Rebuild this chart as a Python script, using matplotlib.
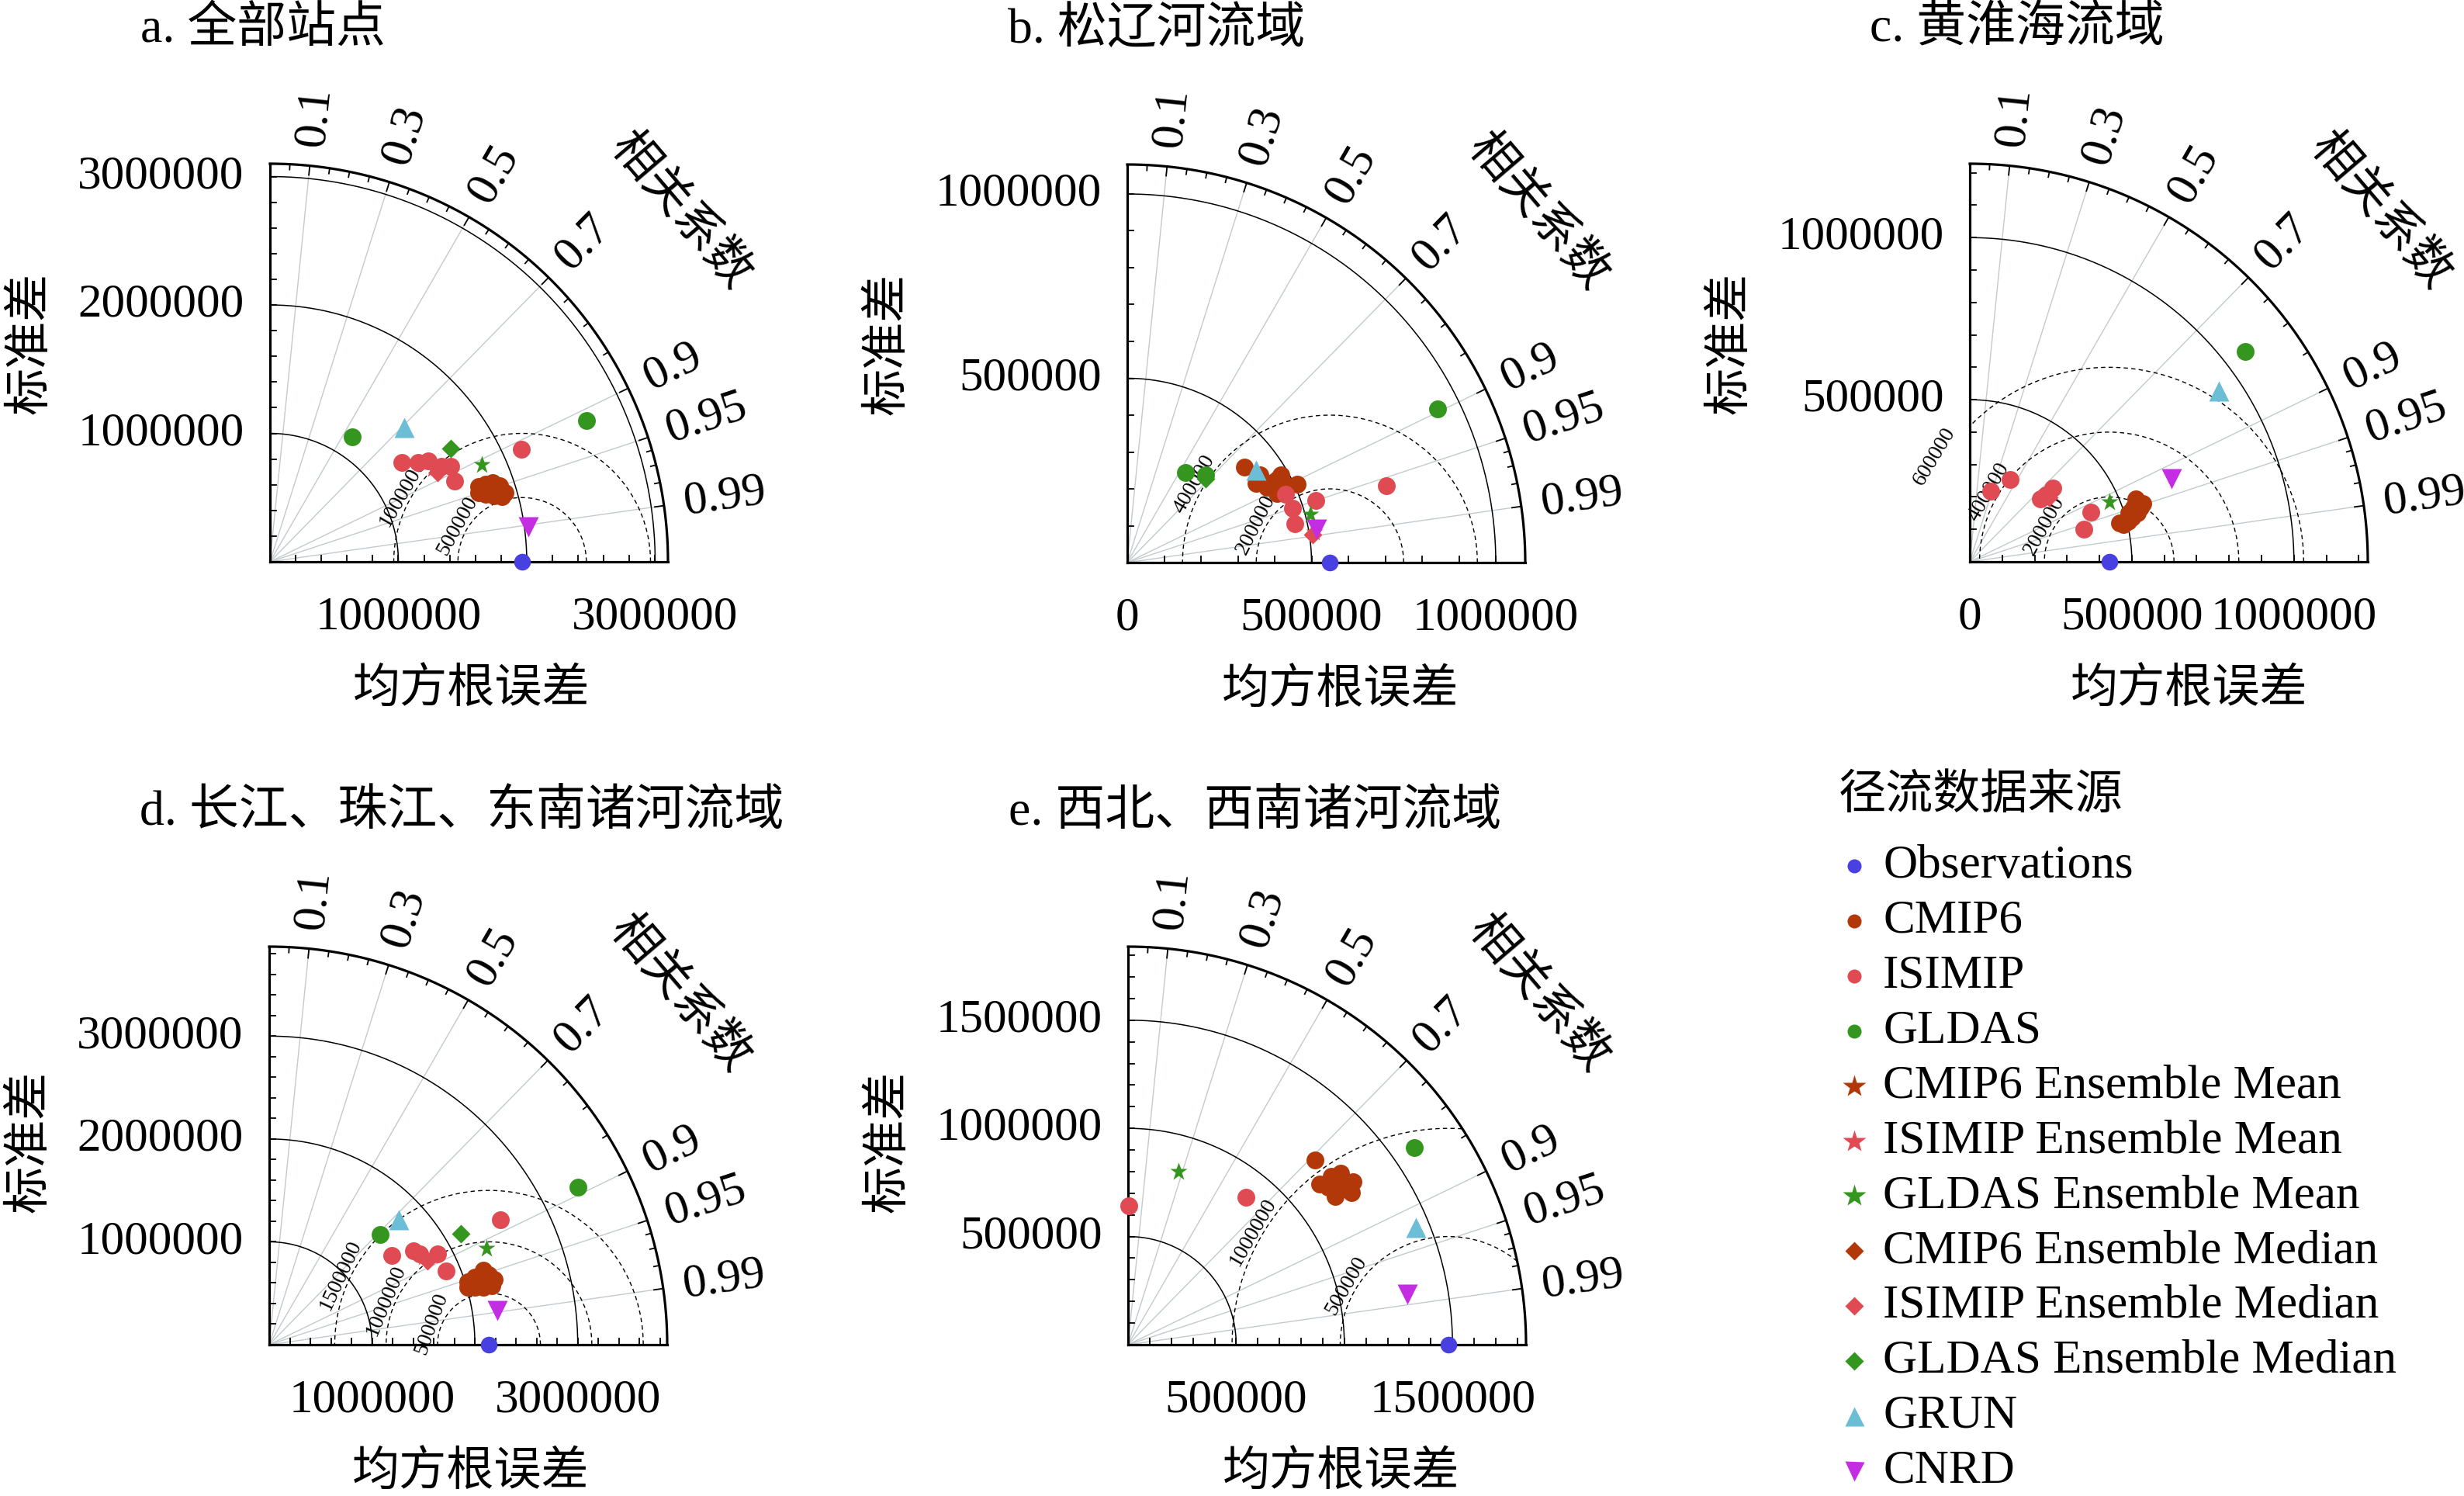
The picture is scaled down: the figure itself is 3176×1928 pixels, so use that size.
import numpy as np
import matplotlib
matplotlib.use("Agg")
import matplotlib.pyplot as plt

plt.rcParams['font.family'] = ['Liberation Serif', 'Noto Sans CJK SC']
plt.rcParams['axes.unicode_minus'] = False

UNIT = 1e6  # values below are in millions

# ---------------- data (std in 1e6 units, correlation) ----------------
# order of mean/median lists: CMIP6, ISIMIP, GLDAS
a_obs_std = 1.964
a_cmip6_std = [1.727, 1.785, 1.839, 1.883, 1.908, 1.879, 1.819, 1.760, 1.712, 1.801, 1.853]
a_cmip6_cor = [0.941, 0.941, 0.942, 0.949, 0.959, 0.963, 0.959, 0.954, 0.949, 0.950, 0.953]
a_isimip_std = [1.288, 1.392, 1.461, 1.528, 1.594, 1.568, 2.146]
a_isimip_cor = [0.798, 0.830, 0.842, 0.873, 0.884, 0.917, 0.913]
a_gldas_std = [1.163, 2.702]
a_gldas_cor = [0.549, 0.913]
a_mean_std = [1.800, 1.461, 1.816]
a_mean_cor = [0.951, 0.869, 0.909]
a_median_std = [1.810, 1.477, 1.664]
a_median_cor = [0.952, 0.882, 0.847]
a_grun = (1.475, 0.707)
a_cnrd = (2.033, 0.991)

b_obs_std = 0.550
b_cmip6_std = [0.410, 0.431, 0.479, 0.508, 0.410, 0.430, 0.447, 0.450, 0.475]
b_cmip6_cor = [0.777, 0.835, 0.869, 0.909, 0.851, 0.881, 0.907, 0.875, 0.892]
b_isimip_std = [0.468, 0.471, 0.466, 0.539, 0.733]
b_isimip_cor = [0.919, 0.950, 0.974, 0.950, 0.959]
b_gldas_std = [0.291, 0.319, 0.940]
b_gldas_cor = [0.539, 0.668, 0.896]
b_mean_std = [0.450, 0.515, 0.514]
b_mean_cor = [0.875, 0.987, 0.967]
b_median_std = [0.452, 0.509, 0.310]
b_median_cor = [0.872, 0.989, 0.683]
b_grun = (0.429, 0.813)
b_cnrd = (0.521, 0.985)

c_obs_std = 0.430
c_cmip6_std = [0.548, 0.552, 0.538, 0.518, 0.503, 0.488, 0.477, 0.563, 0.531, 0.514]
c_cmip6_cor = [0.936, 0.953, 0.960, 0.965, 0.969, 0.972, 0.968, 0.948, 0.949, 0.956]
c_isimip_std = [0.227, 0.283, 0.292, 0.343, 0.312, 0.404, 0.367]
c_isimip_cor = [0.282, 0.439, 0.747, 0.748, 0.753, 0.925, 0.962]
c_gldas_std = [1.069]
c_gldas_cor = [0.794]
c_mean_std = [0.518, 0.303, 0.469]
c_mean_cor = [0.962, 0.776, 0.920]
c_median_std = [0.515, 0.315, None]
c_median_cor = [0.964, 0.775, None]
c_grun = (0.932, 0.825)
c_cnrd = (0.672, 0.925)

d_obs_std = 2.137
d_cmip6_std = [2.029, 2.106, 2.204, 2.243, 2.279, 2.239, 2.157, 2.079, 2.013, 2.201, 2.132]
d_cmip6_cor = [0.953, 0.950, 0.945, 0.953, 0.961, 0.967, 0.966, 0.963, 0.961, 0.958, 0.958]
d_isimip_std = [1.472, 1.676, 1.708, 1.860, 1.860, 2.554]
d_isimip_cor = [0.809, 0.839, 0.855, 0.880, 0.923, 0.879]
d_gldas_std = [1.517, 3.369]
d_gldas_cor = [0.710, 0.891]
d_mean_std = [2.175, 1.725, 2.309]
d_mean_cor = [0.958, 0.870, 0.914]
d_median_std = [2.170, 1.745, 2.157]
d_median_cor = [0.957, 0.884, 0.865]
d_grun = (1.754, 0.720)
d_cnrd = (2.242, 0.989)

e_obs_std = 1.481
e_cmip6_std = [1.215, 1.220, 1.263, 1.286, 1.156, 1.177, 1.251, 1.237, 1.178]
e_cmip6_cor = [0.712, 0.769, 0.778, 0.810, 0.767, 0.814, 0.827, 0.800, 0.786]
e_isimip_std = [0.643, 0.873]
e_isimip_cor = [0.004, 0.626]
e_gldas_std = [1.606]
e_gldas_cor = [0.824]
e_mean_std = [1.230, None, 0.835]
e_mean_cor = [0.794, None, 0.280]
e_median_std = [1.225, None, None]
e_median_cor = [0.790, None, None]
e_grun = (1.437, 0.926)
e_cnrd = (1.312, 0.984)

titles = ["a. 全部站点", "b. 松辽河流域", "c. 黄淮海流域",
          "d. 长江、珠江、东南诸河流域", "e. 西北、西南诸河流域"]
rmax_list = [3.1, 1.08, 1.228, 3.87, 1.84]
std_arcs = [[1, 2, 3], [0.5, 1.0], [0.5, 1.0], [1, 2, 3], [0.5, 1.0, 1.5]]
rms_arcs = [[0.5, 1.0], [0.2, 0.4], [0.2, 0.4, 0.6], [0.5, 1.0, 1.5], [0.5, 1.0]]
ytick_labels = [[1, 2, 3], [0.5, 1.0], [0.5, 1.0], [1, 2, 3], [0.5, 1.0, 1.5]]
xtick_labels = [[1, 3], [0, 0.5, 1.0], [0, 0.5, 1.0], [1, 3], [0.5, 1.5]]
tick_steps = [0.2, 0.1, 0.1, 0.2, 0.1]
corr_labels = [0.1, 0.3, 0.5, 0.7, 0.9, 0.95, 0.99]

legend_title = "径流数据来源"
legend_labels = ["Observations", "CMIP6", "ISIMIP", "GLDAS",
                 "CMIP6 Ensemble Mean", "ISIMIP Ensemble Mean", "GLDAS Ensemble Mean",
                 "CMIP6 Ensemble Median", "ISIMIP Ensemble Median", "GLDAS Ensemble Median",
                 "GRUN", "CNRD"]

# ---------------- styles / layout ----------------
C_OBS = '#4840E0'
C_CMIP = '#B2380A'
C_ISI = '#E04A52'
C_GLD = '#34961E'
C_GRUN = '#6CBED6'
C_CNRD = '#C42EE2'
SER_COLORS = [C_CMIP, C_ISI, C_GLD]
GRAY = '#C2CACE'

W, H = 3176, 1928
R = 513.0
FS = 44
origins = [(348, 724), (1453, 725), (2539, 724), (347, 1733), (1454, 1733)]
title_ux = [-0.326, -0.30, -0.251, -0.326, -0.30]
xlab_ux = [0.507, 0.536, 0.55, 0.507, 0.536]
ylab_uy = [0.55, 0.55, 0.55, 0.51, 0.51]
rms_lab_ang = [[151, 150], [153, 150], [151, 150, 149], [160, 157, 155], [150, 150]]

U0X, U1X, U0Y, U1Y = -0.75, 1.45, -0.45, 1.45

fig = plt.figure(figsize=(W / 100, H / 100), dpi=100)
fig.patch.set_facecolor('white')


def to_xy(std, cor):
    std = np.asarray(std, dtype=float)
    cor = np.asarray(cor, dtype=float)
    return std * cor, std * np.sqrt(np.clip(1 - cor ** 2, 0, None))


def fmt(v):
    return str(int(round(v * UNIT)))


panels = []
for key in "abcde":
    g = globals()
    panels.append(dict(
        obs=g[key + "_obs_std"],
        cmip6=(g[key + "_cmip6_std"], g[key + "_cmip6_cor"]),
        isimip=(g[key + "_isimip_std"], g[key + "_isimip_cor"]),
        gldas=(g[key + "_gldas_std"], g[key + "_gldas_cor"]),
        mean=(g[key + "_mean_std"], g[key + "_mean_cor"]),
        median=(g[key + "_median_std"], g[key + "_median_cor"]),
        grun=g[key + "_grun"], cnrd=g[key + "_cnrd"]))

for i, p in enumerate(panels):
    ox, oy = origins[i]
    rmax = rmax_list[i] * UNIT
    left = (ox + U0X * R) / W
    bottom = (H - (oy - U0Y * R)) / H
    ax = fig.add_axes([left, bottom, (U1X - U0X) * R / W, (U1Y - U0Y) * R / H])
    ax.set_xlim(U0X * rmax, U1X * rmax)
    ax.set_ylim(U0Y * rmax, U1Y * rmax)
    ax.axis('off')
    k = rmax / R  # data units per pixel
    obs = p['obs'] * UNIT

    th = np.linspace(0, np.pi / 2, 400)
    # radial correlation lines
    for c in corr_labels:
        s = np.sqrt(1 - c ** 2)
        ax.plot([0, rmax * c], [0, rmax * s], color=GRAY, lw=1.0, zorder=1)
    # std arcs
    for s in std_arcs[i]:
        ax.plot(s * UNIT * np.cos(th), s * UNIT * np.sin(th), color='k', lw=1.1, zorder=2)
    # RMS arcs
    t = np.linspace(0, np.pi, 1200)
    for j, r in enumerate(rms_arcs[i]):
        rr = r * UNIT
        x = obs + rr * np.cos(t)
        y = rr * np.sin(t)
        bad = (np.hypot(x, y) > rmax) | (x < 0)
        x = np.where(bad, np.nan, x)
        y = np.where(bad, np.nan, y)
        ax.plot(x, y, color='k', lw=1.0, ls=(0, (4, 3)), zorder=2)
        phi = np.deg2rad(rms_lab_ang[i][j])
        rl = rr + 12 * k
        ax.text(obs + rl * np.cos(phi), rl * np.sin(phi), fmt(r), fontsize=20,
                rotation=rms_lab_ang[i][j] - 90, rotation_mode='anchor',
                ha='center', va='center', zorder=3)
    # outer arc and axes
    ax.plot(rmax * np.cos(th), rmax * np.sin(th), color='k', lw=2.3, zorder=4,
            solid_capstyle='projecting')
    ax.plot([0, 0], [0, rmax], color='k', lw=2.3, zorder=4, solid_capstyle='projecting')
    ax.plot([0, rmax], [0, 0], color='k', lw=2.3, zorder=4, solid_capstyle='projecting')
    # axis ticks
    step = tick_steps[i] * UNIT
    for v in np.arange(step, rmax - 1e-6, step):
        ax.plot([v, v], [0, 8 * k], color='k', lw=1.3, zorder=4)
        ax.plot([0, 8 * k], [v, v], color='k', lw=1.3, zorder=4)
    # correlation ticks on the outer arc
    cticks = list(np.round(np.arange(0.05, 0.951, 0.05), 2)) + [0.96, 0.97, 0.98, 0.99]
    for c in cticks:
        s = np.sqrt(1 - c ** 2)
        L = 12 * k if any(abs(c - cl) < 1e-6 for cl in corr_labels) else 7 * k
        ax.plot([rmax * c, (rmax - L) * c], [rmax * s, (rmax - L) * s], color='k', lw=1.3, zorder=4)
    # correlation labels
    for c in corr_labels:
        a = np.arccos(c)
        ax.text(1.05 * rmax * np.cos(a), 1.05 * rmax * np.sin(a), f"{c:g}", fontsize=FS,
                rotation=np.rad2deg(a), rotation_mode='anchor', ha='left', va='center')
    a = np.deg2rad(40.5)
    ax.text(1.355 * rmax * np.cos(a), 1.355 * rmax * np.sin(a), "相关系数", fontsize=FS,
            rotation=-49.5, rotation_mode='anchor', ha='center', va='center')
    # tick labels
    for v in ytick_labels[i]:
        ax.text(-0.065 * rmax, v * UNIT, fmt(v), fontsize=FS, ha='right', va='center')
    for v in xtick_labels[i]:
        ax.text(v * UNIT, -0.14 * rmax, fmt(v), fontsize=FS, ha='center', va='center')
    ax.text(xlab_ux[i] * rmax, -0.325 * rmax, "均方根误差", fontsize=FS, ha='center', va='center')
    ax.text(-0.60 * rmax, ylab_uy[i] * rmax, "标准差", fontsize=FS, rotation=90,
            ha='center', va='center')
    ax.text(title_ux[i] * rmax, 1.337 * rmax, titles[i], fontsize=46, ha='left', va='center')

    # markers
    z = 5
    for (sd, cr), col in zip([p['cmip6'], p['isimip'], p['gldas']], SER_COLORS):
        x, y = to_xy(np.array(sd) * UNIT, cr)
        ax.plot(x, y, 'o', ms=16.5, color=col, mec='none', zorder=z, clip_on=False)
        z += 1
    for sd, cr, col in zip(p['mean'][0], p['mean'][1], SER_COLORS):
        if sd is None:
            continue
        x, y = to_xy(sd * UNIT, cr)
        ax.plot(x, y, '*', ms=17, color=col, mec='none', zorder=9, clip_on=False)
    for sd, cr, col in zip(p['median'][0], p['median'][1], SER_COLORS):
        if sd is None:
            continue
        x, y = to_xy(sd * UNIT, cr)
        ax.plot(x, y, 'D', ms=12.5, color=col, mec='none', zorder=9, clip_on=False)
    x, y = to_xy(p['grun'][0] * UNIT, p['grun'][1])
    ax.plot(x, y, '^', ms=19, color=C_GRUN, mec='none', zorder=10, clip_on=False)
    x, y = to_xy(p['cnrd'][0] * UNIT, p['cnrd'][1])
    ax.plot(x, y, 'v', ms=19, color=C_CNRD, mec='none', zorder=10, clip_on=False)
    ax.plot(obs, 0, 'o', ms=15.5, color=C_OBS, mec='none', zorder=11, clip_on=False)

# ---------------- legend ----------------
lax = fig.add_axes([0, 0, 1, 1])
lax.set_xlim(0, W)
lax.set_ylim(H, 0)
lax.axis('off')
leg_markers = ['o', 'o', 'o', 'o', '*', '*', '*', 'D', 'D', 'D', '^', 'v']
leg_colors = [C_OBS, C_CMIP, C_ISI, C_GLD, C_CMIP, C_ISI, C_GLD, C_CMIP, C_ISI, C_GLD, C_GRUN, C_CNRD]
leg_ms = [13, 13, 13, 13, 22, 22, 22, 12.5, 12.5, 12.5, 18, 18]
lax.text(2370, 1027, legend_title, fontsize=FS, ha='left', va='center')
for j, (lab, m, col, ms) in enumerate(zip(legend_labels, leg_markers, leg_colors, leg_ms)):
    yy = 1116 + 70.9 * j
    lax.plot(2390, yy, m, ms=ms, color=col, mec='none')
    lax.text(2427, yy, lab, fontsize=FS, ha='left', va='center')

fig.savefig("out.png", dpi=100, facecolor='white')
